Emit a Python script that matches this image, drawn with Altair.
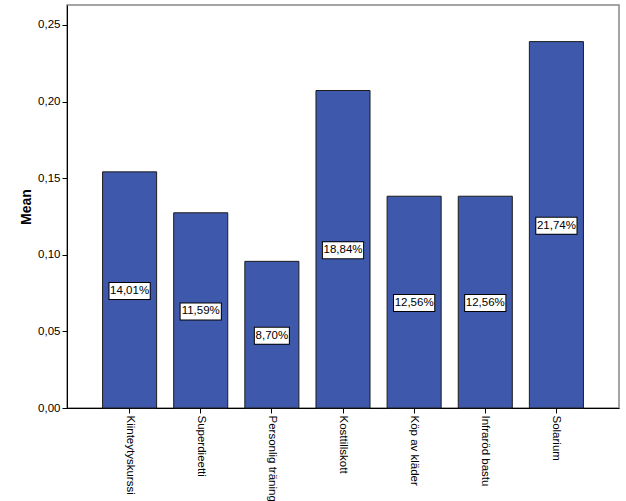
import altair as alt
import pandas as pd

categories = ["Kiinteytyskurssi", "Superdieetti", "Personlig träning", "Kosttillskott",
              "Köp av kläder", "Infraröd bastu", "Solarium"]
means = [0.1541, 0.1274, 0.0957, 0.2072, 0.1382, 0.1382, 0.2391]
labels = ["14,01%", "11,59%", "8,70%", "18,84%", "12,56%", "12,56%", "21,74%"]
y_ticks = [0.0, 0.05, 0.10, 0.15, 0.20, 0.25]

df = pd.DataFrame({"cat": categories, "mean": means, "label": labels})

FONT = "Liberation Sans"

x_enc = alt.X("cat:N", sort=categories,
              scale=alt.Scale(paddingInner=0.24, paddingOuter=0.5),
              axis=alt.Axis(title=None, labelAngle=90, labelFont=FONT, labelFontSize=11.5,
                            labelColor="#000", domainColor="#000", tickColor="#000",
                            tickSize=5, labelPadding=2, labelAlign="left",
                            labelBaseline="middle"))
y_enc = alt.Y("mean:Q", scale=alt.Scale(domain=[0, 0.263], nice=False),
              axis=alt.Axis(title="Mean", values=y_ticks, grid=False,
                            labelExpr="replace(format(datum.value, '.2f'), '.', ',')",
                            labelFont=FONT, labelFontSize=11.5, labelColor="#000",
                            titleFont=FONT, titleFontSize=14, titleFontWeight="bold",
                            titleColor="#000", titlePadding=4,
                            domainColor="#000", tickColor="#000", tickSize=5, labelPadding=2))

base = alt.Chart(df)

bars = base.mark_bar(color="#3E58AC", stroke="#1c1c1c", strokeWidth=1).encode(x=x_enc, y=y_enc)

lab = base.transform_calculate(
    mid="datum.mean / 2",
    w="length(datum.label) * 6.2 + 3",
    wb="length(datum.label) * 6.2 + 5",
)

box_border = lab.mark_rule(color="#000", strokeCap="butt", yOffset=-8, y2Offset=10).encode(
    x=alt.X("cat:N", sort=categories),
    y=alt.Y("mid:Q"),
    y2="mid:Q",
    strokeWidth=alt.StrokeWidth("wb:Q", scale=None, legend=None),
)
box_fill = lab.mark_rule(color="#fff", strokeCap="butt", yOffset=-7, y2Offset=9).encode(
    x=alt.X("cat:N", sort=categories),
    y=alt.Y("mid:Q"),
    y2="mid:Q",
    strokeWidth=alt.StrokeWidth("w:Q", scale=None, legend=None),
)
texts = lab.mark_text(font=FONT, fontSize=11.5, color="#000", baseline="middle", align="center",
                      dy=1).encode(
    x=alt.X("cat:N", sort=categories),
    y=alt.Y("mid:Q"),
    text="label:N",
)

chart = alt.layer(bars, box_border, box_fill, texts).properties(
    width=552, height=403,
    autosize=alt.AutoSizeParams(type="none"),
    padding={"left": 67, "top": 5, "right": 7, "bottom": 93},
    background="#ffffff",
).configure_view(stroke="#888888", strokeWidth=1.5)

chart.save("out.html", embed_options={"renderer": "svg", "actions": False})
